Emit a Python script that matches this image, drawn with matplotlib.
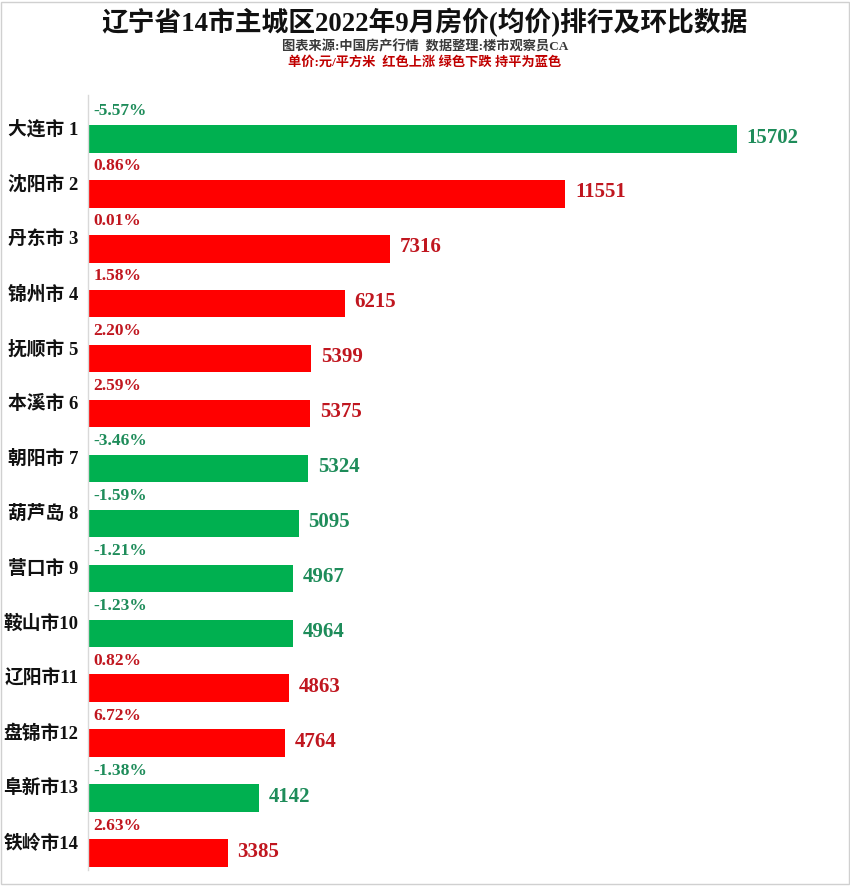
import matplotlib
matplotlib.use("Agg")
import matplotlib.pyplot as plt
from matplotlib.patches import Rectangle

plt.rcParams['font.family'] = ['Liberation Serif', 'Noto Sans CJK SC', 'DejaVu Sans']

# 数据
cities = ['大连市 1', '沈阳市 2', '丹东市 3', '锦州市 4', '抚顺市 5', '本溪市 6', '朝阳市 7',
          '葫芦岛 8', '营口市 9', '鞍山市10', '辽阳市11', '盘锦市12', '阜新市13', '铁岭市14']
prices = [15702, 11551, 7316, 6215, 5399, 5375, 5324, 5095, 4967, 4964, 4863, 4764, 4142, 3385]
changes = [-5.57, 0.86, 0.01, 1.58, 2.20, 2.59, -3.46, -1.59, -1.21, -1.23, 0.82, 6.72, -1.38, 2.63]

up_bar, down_bar, flat_bar = '#ff0000', '#00b050', '#0070c0'
up_txt, down_txt, flat_txt = '#c0161f', '#1e8c5a', '#0070c0'

fig = plt.figure(figsize=(8.5, 8.86), dpi=100)
ax = fig.add_axes([88 / 850, 16 / 886, 757 / 850, 775 / 886])

y = list(range(len(cities)))
bar_c, txt_c = [], []
for c in changes:
    if c > 0:
        bar_c.append(up_bar); txt_c.append(up_txt)
    elif c < 0:
        bar_c.append(down_bar); txt_c.append(down_txt)
    else:
        bar_c.append(flat_bar); txt_c.append(flat_txt)

ax.barh(y, prices, height=0.5, color=bar_c, zorder=2)

for i in y:
    ax.annotate(str(prices[i]), xy=(prices[i], i), xytext=(7, 1), textcoords='offset points',
                ha='left', va='center', fontsize=15, fontweight='bold', color=txt_c[i])
    ax.annotate('%.2f%%' % changes[i], xy=(0, i - 0.5), xytext=(4, 0), textcoords='offset points',
                ha='left', va='center', fontsize=12.5, fontweight='bold', color=txt_c[i])

ax.set_xlim(0, 18316)
ax.set_ylim(13.31, -0.8)
ax.set_yticks([i - 0.21 for i in y])
ax.set_yticklabels(cities, fontsize=13.5, fontweight='bold', color='#111111')
ax.tick_params(axis='y', length=0, pad=7)
ax.set_xticks([])
for s in ['top', 'right', 'bottom']:
    ax.spines[s].set_visible(False)
ax.spines['left'].set_color('#d9d9d9')
ax.spines['left'].set_linewidth(1)

fig.text(0.5, 1 - 23 / 886, '辽宁省14市主城区2022年9月房价(均价)排行及环比数据',
         ha='center', va='center', fontsize=19.3, fontweight='bold', color='#111111')
fig.text(0.5, 1 - 47 / 886, '图表来源:中国房产行情  数据整理:楼市观察员CA',
         ha='center', va='center', fontsize=9.5, fontweight='bold', color='#3a3a3a')
fig.text(0.5, 1 - 63 / 886, '单价:元/平方米  红色上涨 绿色下跌 持平为蓝色',
         ha='center', va='center', fontsize=9.5, fontweight='bold', color='#c00000')

fig.patches.append(Rectangle((0.001, 0.002), 0.998, 0.996, transform=fig.transFigure,
                             fill=False, edgecolor='#d0d0d0', linewidth=1))

fig.savefig('out.png', dpi=100)
